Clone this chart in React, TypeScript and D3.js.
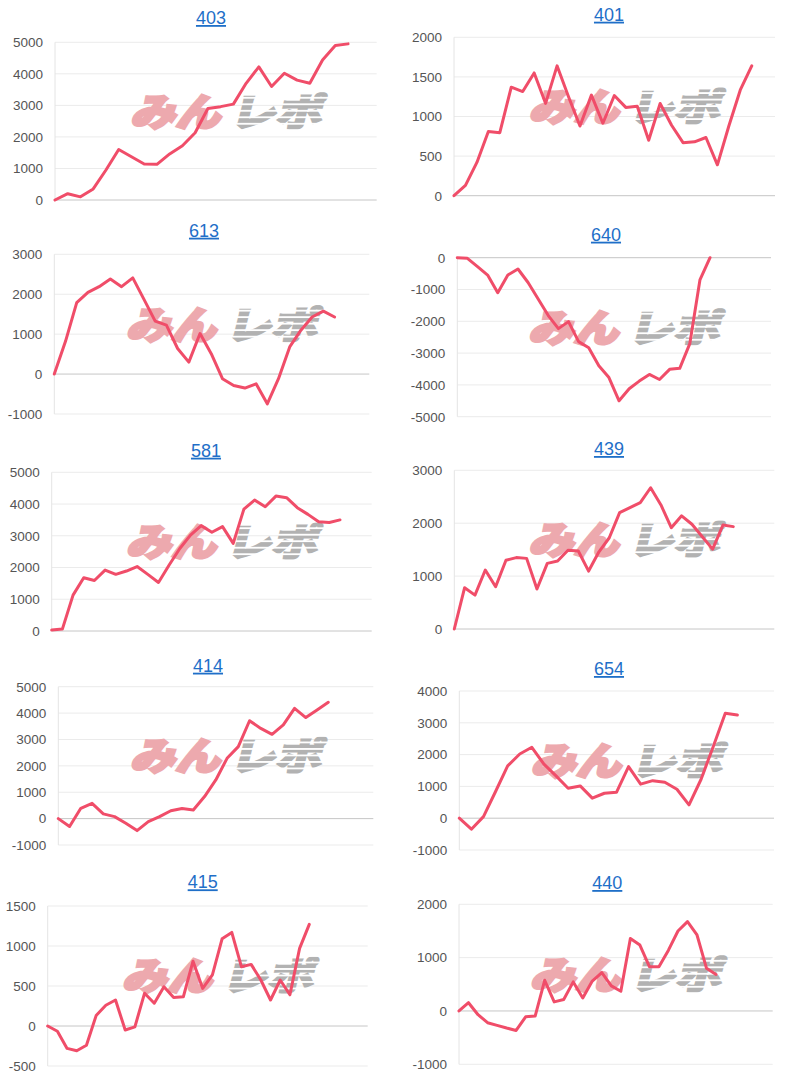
import React from 'react';
import * as d3 from 'd3';

// ---- data ----
const titles = ['403', '401', '613', '640', '581', '439', '414', '654', '415', '440'];

const v403 = [0, 200, 100, 350, 950, 1600, 1370, 1140, 1130, 1460, 1720, 2130, 2900, 2960, 3040, 3700, 4220, 3600, 4020, 3800, 3700, 4440, 4900, 4950];
const v401 = [0, 130, 420, 810, 795, 1370, 1315, 1550, 1165, 1640, 1250, 880, 1270, 915, 1265, 1115, 1130, 700, 1165, 890, 670, 680, 735, 390, 880, 1335, 1640];
const v613 = [0, 820, 1790, 2045, 2190, 2380, 2190, 2410, 1870, 1325, 1225, 640, 300, 1015, 510, -115, -285, -350, -245, -745, -115, 680, 1100, 1430, 1575, 1430];
const v640 = [0, -20, -280, -545, -1100, -545, -355, -780, -1300, -1820, -2230, -2010, -2640, -2830, -3400, -3770, -4500, -4120, -3880, -3670, -3830, -3510, -3480, -2700, -700, 0];
const v581 = [30, 60, 1130, 1680, 1590, 1920, 1785, 1890, 2030, 1785, 1530, 2080, 2600, 3020, 3320, 3110, 3290, 2760, 3840, 4125, 3915, 4250, 4200, 3885, 3675, 3440, 3420, 3500];
const v439 = [0, 780, 640, 1115, 800, 1300, 1350, 1335, 755, 1240, 1285, 1490, 1475, 1095, 1460, 1725, 2200, 2295, 2390, 2670, 2345, 1915, 2140, 1980, 1745, 1510, 1965, 1935];
const v414 = [0, -300, 390, 580, 180, 75, -175, -455, -115, 75, 300, 380, 330, 835, 1465, 2285, 2730, 3710, 3420, 3195, 3550, 4180, 3830, 4120, 4410];
const v654 = [0, -345, 50, 840, 1645, 2020, 2230, 1700, 1330, 940, 1015, 630, 785, 815, 1620, 1070, 1180, 1130, 910, 420, 1225, 2250, 3300, 3245];
const v415 = [0, -65, -280, -310, -240, 130, 260, 325, -50, -10, 410, 285, 490, 355, 365, 810, 470, 640, 1090, 1170, 740, 770, 575, 325, 575, 390, 970, 1270];
const v440 = [0, 155, -70, -220, -270, -320, -365, -110, -95, 575, 170, 215, 545, 245, 560, 720, 470, 370, 1360, 1235, 830, 830, 1140, 1500, 1675, 1425, 800, 685];

const seriesList = [v403, v401, v613, v640, v581, v439, v414, v654, v415, v440];

const yDomains: [number, number][] = [
  [0, 5000], [0, 2000], [-1000, 3000], [-5000, 0], [0, 5000],
  [0, 3000], [-1000, 5000], [-1000, 4000], [-500, 1500], [-1000, 2000],
];
const yTickSteps = [1000, 500, 1000, 1000, 1000, 1000, 1000, 1000, 500, 1000];
const xMaxes = [25.25, 28.03, 28.1, 31.03, 29.97, 30.97, 28.0, 26.03, 33.03, 32.95];

// ---- layout (pixel frames of each small chart) ----
const layouts = [
  { left: 55, right: 376.7, top: 42.3, bottom: 200, titleX: 211, titleY: 24 },
  { left: 454, right: 775, top: 37.3, bottom: 195.7, titleX: 609, titleY: 20.7 },
  { left: 54.3, right: 369.3, top: 254.3, bottom: 414, titleX: 204, titleY: 236.7 },
  { left: 457.3, right: 771, top: 257.7, bottom: 416.7, titleX: 606, titleY: 240.7 },
  { left: 51.7, right: 371.7, top: 472.3, bottom: 631, titleX: 206, titleY: 456.7 },
  { left: 454.3, right: 774.3, top: 470.3, bottom: 629, titleX: 609, titleY: 455 },
  { left: 58.3, right: 373.3, top: 686.7, bottom: 845, titleX: 208, titleY: 671.7 },
  { left: 459.3, right: 774, top: 691, bottom: 850, titleX: 609, titleY: 675 },
  { left: 47.7, right: 367.7, top: 906, bottom: 1066, titleX: 202.7, titleY: 888.3 },
  { left: 459, right: 772.7, top: 904.3, bottom: 1064.3, titleX: 607.3, titleY: 889 },
];

const LINE_COLOR = '#f04d69';
const TITLE_COLOR = '#1f6fc8';
const FONT = 'Arial, "Liberation Sans", Helvetica, sans-serif';
const CJK = '"Noto Sans CJK JP", sans-serif';

function Panel({ i }: { i: number }) {
  const L = layouts[i];
  const dom = yDomains[i];
  const x = d3.scaleLinear().domain([0, xMaxes[i]]).range([L.left, L.right]);
  const y = d3.scaleLinear().domain(dom).range([L.bottom, L.top]);
  const ticks = d3.range(dom[0], dom[1] + 1, yTickSteps[i]);
  const line = d3
    .line<number>()
    .x((_, k) => x(k))
    .y((d) => y(d));
  const wmX = L.left + 0.54 * (L.right - L.left);
  const wmY = L.top + 0.44 * (L.bottom - L.top);

  return (
    <g>
      <text
        x={L.titleX}
        y={L.titleY}
        textAnchor="middle"
        fontFamily={FONT}
        fontSize={18}
        fill={TITLE_COLOR}
        textDecoration="underline"
      >
        {titles[i]}
      </text>
      {ticks.map((t) => (
        <g key={t}>
          <line
            x1={L.left}
            x2={L.right}
            y1={y(t)}
            y2={y(t)}
            stroke={t === 0 ? '#c6c6c6' : '#ebebeb'}
            strokeWidth={1}
          />
          <text
            x={L.left - 12}
            y={y(t)}
            dy="0.36em"
            textAnchor="end"
            fontFamily={FONT}
            fontSize={13.5}
            fill="#555"
          >
            {String(t)}
          </text>
        </g>
      ))}
      <line x1={L.left} x2={L.left} y1={L.top} y2={L.bottom} stroke="#e4e4e4" strokeWidth={1} />
      {/* watermark */}
      <g transform={`translate(${wmX},${wmY}) skewX(-14)`}>
        <text
          x={-95}
          y={14}
          fontFamily={CJK}
          fontWeight={900}
          fontSize={38}
          fill="#eda9ae"
          stroke="#eda9ae"
          strokeWidth={2.8}
          strokeLinejoin="miter"
          textLength={90}
          lengthAdjust="spacingAndGlyphs"
        >
          みん
        </text>
        <text
          x={4}
          y={14}
          fontFamily={CJK}
          fontWeight={900}
          fontSize={38}
          fill="url(#wmStripes)"
          stroke="url(#wmStripes)"
          strokeWidth={2.2}
          strokeLinejoin="miter"
          textLength={92}
          lengthAdjust="spacingAndGlyphs"
        >
          レポ
        </text>
      </g>
      <path d={line(seriesList[i]) || ''} fill="none" stroke={LINE_COLOR} strokeWidth={3} strokeLinejoin="round" strokeLinecap="round" />
    </g>
  );
}

export default function App() {
  return (
    <div style={{ position: 'absolute', left: 0, top: 0, width: 800, height: 1080, background: '#fff' }}>
      <svg width={800} height={1080} viewBox="0 0 800 1080" style={{ display: 'block' }}>
        <defs>
          <pattern id="wmStripes" patternUnits="userSpaceOnUse" width={10} height={6.5}>
            <rect x={0} y={0} width={10} height={4.8} fill="#b2b2b2" />
            <rect x={0} y={4.8} width={10} height={1.7} fill="#ffffff" />
          </pattern>
        </defs>
        <rect x={0} y={0} width={800} height={1080} fill="#fff" />
        {titles.map((_, i) => (
          <Panel key={i} i={i} />
        ))}
      </svg>
    </div>
  );
}
